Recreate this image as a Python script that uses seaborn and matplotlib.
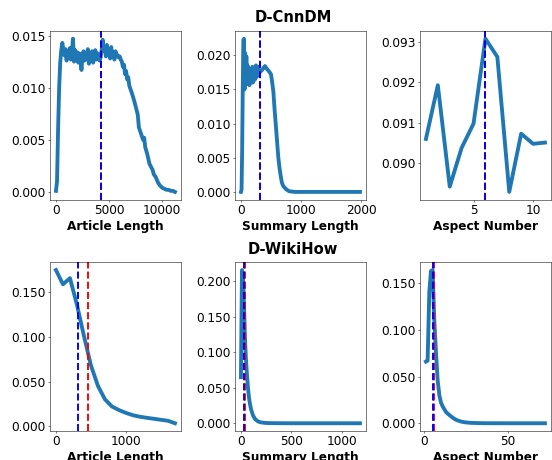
import numpy as np
import pandas as pd
import seaborn as sns
import matplotlib
matplotlib.use("Agg")
import matplotlib.pyplot as plt
from matplotlib.ticker import FormatStrFormatter

# D-CnnDM: article length
cnn_art_x = [0, 100, 200, 300, 400, 500, 600, 700, 800, 900, 1000, 1100, 1200, 1300,
             1400, 1500, 1600, 1700, 1800, 1900, 2000, 2100, 2200, 2300, 2400, 2500,
             2600, 2700, 2800, 2900, 3000, 3100, 3200, 3300, 3400, 3500, 3600, 3700,
             3800, 3900, 4000, 4100, 4200, 4300, 4400, 4500, 4600, 4700, 4800, 4900,
             5000, 5100, 5200, 5300, 5400, 5500, 5600, 5700, 5800, 5900, 6000, 6100,
             6200, 6300, 6400, 6500, 6600, 6700, 6800, 6900, 7000, 7200, 7400, 7600,
             7700, 7800, 8000, 8200, 8300, 8400, 8600, 8800, 9000, 9100, 9200, 9400,
             9600, 9800, 10000, 10200, 10400, 10600, 10800, 11000, 11200]
cnn_art_y = [0.0001, 0.0010, 0.0060, 0.0100, 0.0124, 0.0136, 0.0143, 0.0136, 0.0131,
             0.0137, 0.0126, 0.0135, 0.0129, 0.0138, 0.0127, 0.0133, 0.0147, 0.0125,
             0.0136, 0.0128, 0.0134, 0.0124, 0.0133, 0.0129, 0.0117, 0.0131, 0.0135,
             0.0126, 0.0133, 0.0128, 0.0137, 0.0123, 0.0132, 0.0127, 0.0135, 0.0124,
             0.0130, 0.0136, 0.0127, 0.0133, 0.0131, 0.0126, 0.0129, 0.0136, 0.0146,
             0.0135, 0.0139, 0.0130, 0.0141, 0.0132, 0.0137, 0.0128, 0.0139, 0.0131,
             0.0134, 0.0127, 0.0135, 0.0132, 0.0131, 0.0129, 0.0130, 0.0127, 0.0125,
             0.0120, 0.0122, 0.0113, 0.0116, 0.0108, 0.0110, 0.0102, 0.0099, 0.0093,
             0.0086, 0.0078, 0.0074, 0.0062, 0.0056, 0.0050, 0.0052, 0.0043, 0.0036,
             0.0027, 0.0023, 0.0021, 0.0017, 0.0014, 0.0009, 0.0006, 0.0004, 0.0003,
             0.0002, 0.0002, 0.0001, 0.0001, 0.0000]

# D-CnnDM: summary length
cnn_sum_x = [0, 10, 20, 30, 40, 50, 60, 70, 80, 90, 100, 110, 120, 130, 140, 150, 160,
             170, 180, 190, 200, 210, 220, 230, 240, 250, 260, 270, 280, 290, 300, 320,
             350, 380, 400, 430, 460, 500, 520, 540, 560, 580, 600, 620, 640, 660, 680,
             700, 750, 800, 900, 1000, 1500, 1980]
cnn_sum_y = [0.0000, 0.0003, 0.0060, 0.0150, 0.0222, 0.0224, 0.0150, 0.0203, 0.0160,
             0.0198, 0.0158, 0.0185, 0.0165, 0.0180, 0.0156, 0.0175, 0.0162, 0.0178,
             0.0160, 0.0183, 0.0160, 0.0176, 0.0181, 0.0164, 0.0172, 0.0185, 0.0168,
             0.0178, 0.0170, 0.0183, 0.0172, 0.0176, 0.0178, 0.0182, 0.0184, 0.0180,
             0.0177, 0.0172, 0.0160, 0.0146, 0.0120, 0.0098, 0.0075, 0.0052, 0.0036,
             0.0024, 0.0014, 0.0009, 0.0004, 0.0001, 0.0, 0.0, 0.0, 0.0]

# D-CnnDM: aspect number
cnn_asp_x = [1, 2, 3, 4, 5, 6, 7, 8, 9, 10, 11]
cnn_asp_y = [0.0906, 0.09193, 0.08942, 0.09038, 0.09098, 0.09308, 0.09263, 0.08929,
             0.09073, 0.09048, 0.09051]

# D-WikiHow: article length
wiki_art_x = [0, 100, 200, 300, 400, 500, 600, 700, 800, 900, 1000, 1100, 1200, 1300,
              1400, 1500, 1600, 1700]
wiki_art_y = [0.175, 0.159, 0.166, 0.136, 0.101, 0.068, 0.045, 0.030, 0.022, 0.018,
              0.0148, 0.0122, 0.0105, 0.0093, 0.0082, 0.0071, 0.0060, 0.0032]

# D-WikiHow: summary length
wiki_sum_x = [0, 10, 20, 30, 40, 50, 60, 70, 80, 90, 100, 120, 140, 160, 180, 200, 250,
              300, 400, 500, 700, 900, 1183]
wiki_sum_y = [0.065, 0.216, 0.210, 0.170, 0.120, 0.090, 0.068, 0.050, 0.036, 0.027,
              0.020, 0.011, 0.006, 0.0035, 0.002, 0.0012, 0.0004, 0.0002, 0.0001,
              0.0, 0.0, 0.0, 0.0]

# D-WikiHow: aspect number
wiki_asp_x = [1, 2, 3, 4, 5, 6, 7, 8, 9, 10, 11, 12, 13, 14, 15, 16, 17, 18, 19, 20,
              22, 24, 26, 28, 30, 35, 40, 50, 60, 72]
wiki_asp_y = [0.066, 0.067, 0.140, 0.163, 0.164, 0.110, 0.076, 0.046, 0.030, 0.022,
              0.018, 0.015, 0.012, 0.0103, 0.0088, 0.0073, 0.0060, 0.0047, 0.0037,
              0.0030, 0.0018, 0.0011, 0.0007, 0.0004, 0.0003, 0.0001, 0.00005, 0.0,
              0.0, 0.0]

# vertical markers (blue / red)
blue_lines = [4230, 312, 6, 312, 32, 5]
red_lines = [4230, 312, 6, 451, 42, 6]

xlabels = ["Article Length", "Summary Length", "Aspect Number"] * 2
xticks = [[0, 5000, 10000], [0, 1000, 2000], [5, 10],
          [0, 1000], [0, 500, 1000], [0, 50]]
yticks = [[0.000, 0.005, 0.010, 0.015], [0.000, 0.005, 0.010, 0.015, 0.020],
          [0.090, 0.091, 0.092, 0.093], [0.000, 0.050, 0.100, 0.150],
          [0.000, 0.050, 0.100, 0.150, 0.200], [0.000, 0.050, 0.100, 0.150]]

series = [(cnn_art_x, cnn_art_y), (cnn_sum_x, cnn_sum_y), (cnn_asp_x, cnn_asp_y),
          (wiki_art_x, wiki_art_y), (wiki_sum_x, wiki_sum_y), (wiki_asp_x, wiki_asp_y)]

fig, axes = plt.subplots(2, 3, figsize=(12, 10), dpi=46)
plt.subplots_adjust(left=0.0906, right=0.998, top=0.9325, bottom=0.0632,
                    wspace=0.413, hspace=0.373)

for i, ax in enumerate(axes.flat):
    xs, ys = series[i]
    df = pd.DataFrame({"x": xs, "y": ys})
    sns.lineplot(data=df, x="x", y="y", ax=ax, color="#1f77b4", linewidth=6)
    ax.axvline(red_lines[i], color="red", linestyle="--", linewidth=3)
    ax.axvline(blue_lines[i], color="blue", linestyle="--", linewidth=3)
    ax.set_xticks(xticks[i])
    ax.set_yticks(yticks[i])
    ax.yaxis.set_major_formatter(FormatStrFormatter("%.3f"))
    ax.tick_params(labelsize=19)
    ax.set_xlabel(xlabels[i], fontsize=19, fontweight="bold")
    ax.set_ylabel("")

fig.text(0.531, 0.953, "D-CnnDM", fontsize=23, fontweight="bold", ha="center", va="baseline")
fig.text(0.531, 0.448, "D-WikiHow", fontsize=23, fontweight="bold", ha="center", va="baseline")

plt.savefig("out.png", dpi=46)
